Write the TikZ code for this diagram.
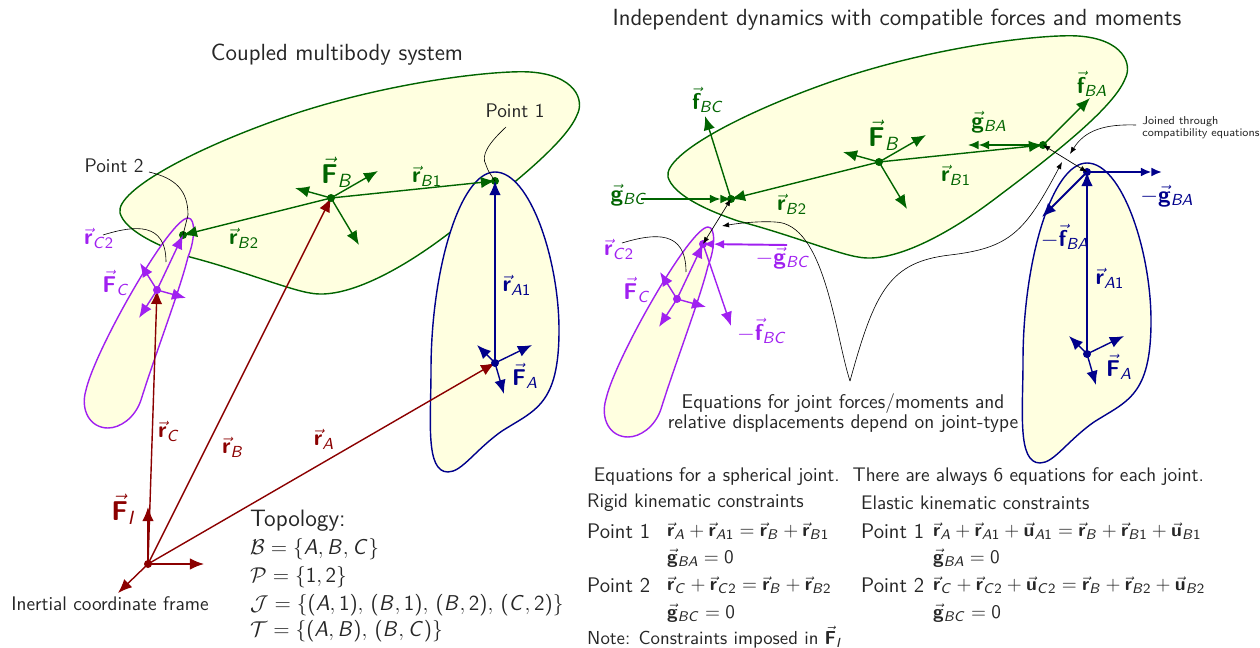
\documentclass[tikz,border=0pt]{standalone}
\usepackage{fix-cm}
\usepackage{amsmath}
\usepackage{amssymb}
\renewcommand{\familydefault}{\sfdefault}
\usetikzlibrary{arrows.meta}
\DeclareSymbolFont{sanslet}{OT1}{cmss}{m}{sl}
\SetSymbolFont{operators}{normal}{OT1}{cmss}{m}{n}
\SetMathAlphabet{\mathbf}{normal}{OT1}{cmss}{bx}{n}
\DeclareMathSymbol{A}{\mathalpha}{sanslet}{`A}
\DeclareMathSymbol{B}{\mathalpha}{sanslet}{`B}
\DeclareMathSymbol{C}{\mathalpha}{sanslet}{`C}
\DeclareMathSymbol{I}{\mathalpha}{sanslet}{`I}
\newcommand{\vecr}[1]{\vec{\mathbf{r}}_{#1}}
\newcommand{\vecF}[1]{\vec{\mathbf{F}}_{#1}}
\newcommand{\vecf}[1]{\vec{\mathbf{f}}_{#1}}
\newcommand{\vecg}[1]{\vec{\mathbf{g}}_{#1}}
\newcommand{\vecu}[1]{\vec{\mathbf{u}}_{#1}}
\newcommand{\bodyBpath}{(120,213) .. controls (115,190) and (200,145) .. (300,112) .. controls (400,80) and (500,70) .. (530,72) .. controls (575,75) and (585,100) .. (577,115) .. controls (565,145) and (500,195) .. (444,237) .. controls (400,270) and (345,300) .. (310,293) .. controls (290,290) and (240,270) .. (190,257) .. controls (155,245) and (125,230) .. (120,213) -- cycle}
\newcommand{\bodyApath}{(495,172) .. controls (460,172) and (431,270) .. (431,370) .. controls (431,420) and (425,472) .. (448,472) .. controls (462,472) and (475,450) .. (502,431) .. controls (535,410) and (559,405) .. (559,330) .. controls (559,260) and (530,172) .. (495,172) -- cycle}
\newcommand{\bodyCpath}{(188,218) .. controls (196,218) and (195,240) .. (188,257) .. controls (180,290) and (155,355) .. (141,400) .. controls (135,418) and (120,428) .. (108,428) .. controls (90,428) and (80,410) .. (86,390) .. controls (95,350) and (170,218) .. (188,218) -- cycle}
\definecolor{Bcol}{RGB}{0,100,0}
\definecolor{Acol}{RGB}{0,0,139}
\definecolor{Ccol}{RGB}{160,32,240}
\definecolor{Icol}{RGB}{139,0,0}
\definecolor{bodyfill}{RGB}{255,255,224}

\begin{document}
\begin{tikzpicture}[
    x=0.02cm, y=-0.02cm,
    body/.style={fill=bodyfill, line width=0.8pt},
    vecB/.style={-{Latex[length=8pt,width=6.5pt]}, line width=0.8pt, Bcol},
    vecA/.style={-{Latex[length=8pt,width=6.5pt]}, line width=0.8pt, Acol},
    vecC/.style={-{Latex[length=8pt,width=6.5pt]}, line width=0.8pt, Ccol},
    vecI/.style={-{Latex[length=8pt,width=6.5pt]}, line width=0.8pt, Icol},
    dblB/.style={-{Latex[length=6pt,width=5pt].Latex[length=6pt,width=5pt]}, line width=0.9pt, Bcol},
    dblA/.style={-{Latex[length=6pt,width=5pt].Latex[length=6pt,width=5pt]}, line width=1.1pt, Acol},
    dblC/.style={-{Latex[length=6pt,width=5pt].Latex[length=6pt,width=5pt]}, line width=1.1pt, Ccol},
    note/.style={line width=0.35pt, black},
    noteto/.style={-{Latex[length=4pt,width=3pt]}, line width=0.35pt, black},
    joint/.style={{Latex[length=4pt,width=3pt]}-{Latex[length=4pt,width=3pt]}, line width=0.4pt, black},
    txt/.style={font=\fontsize{11.2}{10.4}\selectfont, black!85},
    eqn/.style={font=\fontsize{11.15}{14}\selectfont, anchor=west, black!85},
    eqm/.style={font=\fontsize{10.95}{14}\selectfont},
    ttl/.style={font=\fontsize{13.3}{16}\selectfont, black!85},
    ptl/.style={font=\fontsize{12}{14}\selectfont},
    topo/.style={font=\fontsize{13.5}{16}\selectfont},
    setl/.style={font=\fontsize{12.2}{16}\selectfont},
    lblB/.style={text=Bcol},
    lblA/.style={text=Acol},
    lblC/.style={text=Ccol},
    lblI/.style={text=Icol},
    big/.style={font=\fontsize{15.5}{18}\selectfont},
    mid/.style={font=\fontsize{13}{15}\selectfont},
]
\useasboundingbox (0,0) rectangle (1260,648);

\coordinate (I) at (148,564);
\coordinate (Ix) at (204,564);
\coordinate (Iy) at (148,507);
\coordinate (Iz) at (118,593);
\coordinate (A) at (495,363);
\coordinate (B) at (331,198);
\coordinate (C) at (157,290);
\coordinate (P1) at (495,181);
\coordinate (P2) at (183,235);

\node[ttl] (title1) at (337,55) {Coupled multibody system};
\draw[body, draw=Bcol] \bodyBpath;
\draw[body, draw=Acol] \bodyApath;
\draw[body, draw=Ccol] \bodyCpath;

\draw[vecI] (I) -- (A);
\draw[vecI] (I) -- (B);
\draw[vecI] (I) -- (C);
\draw[vecI] (I) -- (Ix);
\draw[vecI] (I) -- (Iy);
\draw[vecI] (I) -- (Iz);
\fill[Icol] (I) circle (4);
\draw[vecB] (B) -- (P1);
\draw[vecB] (B) -- (P2);
\draw[vecB] (B) -- (378,171);
\draw[vecB] (B) -- (295,188);
\draw[vecB] (B) -- (359,245);
\fill[Bcol] (B) circle (4);
\fill[Bcol] (P1) circle (4);
\fill[Bcol] (P2) circle (4);
\draw[vecA] (A) -- (P1);
\draw[vecA] (A) -- (532,345);
\draw[vecA] (A) -- (477,345);
\draw[vecA] (A) -- (504,394);
\fill[Acol] (A) circle (4);
\draw[vecC] (C) -- (P2);
\draw[vecC] (C) -- (140,263);
\draw[vecC] (C) -- (186,298);
\draw[vecC] (C) -- (139,318);
\fill[Ccol] (C) circle (4);

\draw[note] (149,172) .. controls (175,178) and (188,190) .. (188,215) -- (P2);
\draw[note] (506,127) .. controls (490,142) and (480,155) .. (486,165) .. controls (488,172) and (492,176) .. (P1);
\draw[note] (103,235) .. controls (135,225) and (166,222) .. (166,262);

\node[lblB, mid] (rB1) at (427,176) {$\vecr{B1}$};
\node[lblB, big] (FB) at (337,172) {$\vecF{B}$};
\node[lblB, mid] (rB2) at (244,238) {$\vecr{B2}$};
\node[lblA, mid] (rA1) at (517,285) {$\vecr{A1}$};
\node[lblA, mid] (FA) at (525,376) {$\vecF{A}$};
\node[lblC, mid] (rC2) at (99,238) {$\vecr{C2}$};
\node[lblC, mid] (FC) at (116,283) {$\vecF{C}$};
\node[lblI, mid] (rC) at (169,431) {$\vecr{C}$};
\node[lblI, mid] (rB) at (233,447) {$\vecr{B}$};
\node[lblI, mid] (rA) at (324,439) {$\vecr{A}$};
\node[lblI, big] (FI) at (124,509) {$\vecF{I}$};
\node[txt] (pt1) at (515,111) {Point 1};
\node[txt] (pt2) at (114,166) {Point 2};
\node[txt] (frame) at (110,604) {Inertial coordinate frame};
\node[eqn, topo] (topology) at (244,521) {Topology:};
\node[eqn, setl] (setB) at (244,549) {$\mathcal{B}=\{A,B,C\}$};
\node[eqn, setl] (setP) at (244,577) {$\mathcal{P}=\{1,2\}$};
\node[eqn, setl] (setJ) at (244,605) {$\mathcal{J}=\{(A,1),\,(B,1),\,(B,2),\,(C,2)\}$};
\node[eqn, setl] (setT) at (244,631) {$\mathcal{T}=\{(A,B),\,(B,C)\}$};

\coordinate (Bb) at (879,162);
\coordinate (P1b) at (1043,145);
\coordinate (P2b) at (731,199);
\coordinate (Aa) at (1087,354);
\coordinate (P1a) at (1087,172);
\coordinate (Cc) at (677,299);
\coordinate (P2c) at (703,244);

\node[ttl] (title2) at (897,20) {Independent dynamics with compatible forces and moments};
\begin{scope}[shift={(548,-36)}]
\draw[body, draw=Bcol] \bodyBpath;
\end{scope}
\begin{scope}[shift={(592,-9)}]
\draw[body, draw=Acol] \bodyApath;
\end{scope}
\begin{scope}[shift={(520,9)}]
\draw[body, draw=Ccol] \bodyCpath;
\end{scope}

\draw[vecB] (Bb) -- (P1b);
\draw[vecB] (Bb) -- (P2b);
\draw[vecB] (Bb) -- (926,135);
\draw[vecB] (Bb) -- (843,152);
\draw[vecB] (Bb) -- (907,209);
\draw[vecB] (P2b) -- (705,116);
\draw[vecB] (P1b) -- (1090,98);
\draw[dblB] (P1b) -- (968,145);
\draw[dblB] (641,199) -- (P2b);
\fill[Bcol] (Bb) circle (4);
\fill[Bcol] (P1b) circle (4);
\fill[Bcol] (P2b) circle (4);
\draw[vecA] (Aa) -- (P1a);
\draw[vecA] (Aa) -- (1124,336);
\draw[vecA] (Aa) -- (1069,336);
\draw[vecA] (Aa) -- (1096,385);
\draw[dblA] (P1a) -- (1162,172);
\draw[vecA, line width=1.1pt] (P1a) -- (1042,217);
\fill[Acol] (Aa) circle (4);
\fill[Acol] (P1a) circle (4);
\draw[vecC] (Cc) -- (P2c);
\draw[vecC] (Cc) -- (660,272);
\draw[vecC] (Cc) -- (706,307);
\draw[vecC] (Cc) -- (659,327);
\draw[dblC] (787,245) -- (P2c);
\draw[vecC] (P2c) -- (731,326);
\fill[Ccol] (Cc) circle (4);
\fill[Ccol] (P2c) circle (4);

\draw[joint] (P1b) -- (P1a);
\draw[joint] (P2b) -- (P2c);
\coordinate (eqroot) at (850,381);
\coordinate (eqleft) at (722,226);
\coordinate (eqright) at (1062,162);
\draw[noteto] (eqroot) .. controls (835,335) and (825,223) .. (775,222) .. controls (760,221) and (740,223) .. (eqleft);
\draw[noteto] (eqroot) .. controls (875,290) and (890,262) .. (950,255) .. controls (1010,248) and (1025,232) .. (eqright);
\node[txt, font=\fontsize{6.5}{5.2}\selectfont, align=left, anchor=west, inner sep=0pt] (joined) at (1142,127.5) {Joined through\\compatibility equations};
\coordinate (joinedend) at (1070,154);
\draw[noteto] (1136,125) .. controls (1105,124) and (1085,130) .. (joinedend);
\draw[note] (622,243) .. controls (655,233) and (686,230) .. (686,272);

\node[lblB, big] (FBb) at (884,135) {$\vecF{B}$};
\node[lblB, mid] (gBA) at (989,122) {$\vecg{BA}$};
\node[lblB, mid] (fBA) at (1092,84) {$\vecf{BA}$};
\node[lblB, mid] (fBC) at (708,100) {$\vecf{BC}$};
\node[lblB, mid] (gBC) at (629,195) {$\vecg{BC}$};
\node[lblB, mid] (rB2b) at (792,204) {$\vecr{B2}$};
\node[lblB, mid] (rB1b) at (956,175) {$\vecr{B1}$};
\node[lblA, mid] (mgBA) at (1167,196) {$-\vecg{BA}$};
\node[lblA, mid] (mfBA) at (1065,237) {$-\vecf{BA}$};
\node[lblA, mid] (rA1b) at (1110,278) {$\vecr{A1}$};
\node[lblA, mid] (FAa) at (1119,367) {$\vecF{A}$};
\node[lblC, mid] (rC2c) at (619,249) {$\vecr{C2}$};
\node[lblC, mid] (FCc) at (637,290) {$\vecF{C}$};
\node[lblC, mid] (mgBC) at (783,258) {$-\vecg{BC}$};
\node[lblC, mid] (mfBC) at (762,331) {$-\vecf{BC}$};
\node[txt, font=\fontsize{11.3}{10.4}\selectfont, align=center] (depend) at (843,413) {Equations for joint forces/moments and\\relative displacements depend on joint-type};

\node[txt] (head) at (899,477) {Equations for a spherical joint.\ \ There are always 6 equations for each joint.};
\node[eqn] (rigid) at (581,503) {Rigid kinematic constraints};
\node[eqn] (elastic) at (855,503) {Elastic kinematic constraints};
\node[eqn, ptl] (r1) at (581,531) {Point 1};
\node[eqn, eqm] (r1eq) at (661,531) {$\vecr{A}+\vecr{A1}=\vecr{B}+\vecr{B1}$};
\node[eqn, eqm] (r1g) at (661,558) {$\vecg{BA}=0$};
\node[eqn, ptl] (r2) at (581,585) {Point 2};
\node[eqn, eqm] (r2eq) at (661,585) {$\vecr{C}+\vecr{C2}=\vecr{B}+\vecr{B2}$};
\node[eqn, eqm] (r2g) at (661,613) {$\vecg{BC}=0$};
\node[eqn, font=\fontsize{10.7}{14}\selectfont] (cnote) at (581,637) {Note: Constraints imposed in $\vecF{I}$};
\node[eqn, ptl] (e1) at (855,531) {Point 1};
\node[eqn, eqm] (e1eq) at (927,531) {$\vecr{A}+\vecr{A1}+\vecu{A1}=\vecr{B}+\vecr{B1}+\vecu{B1}$};
\node[eqn, eqm] (e1g) at (927,558) {$\vecg{BA}=0$};
\node[eqn, ptl] (e2) at (855,585) {Point 2};
\node[eqn, eqm] (e2eq) at (927,585) {$\vecr{C}+\vecr{C2}+\vecu{C2}=\vecr{B}+\vecr{B2}+\vecu{B2}$};
\node[eqn, eqm] (e2g) at (927,613) {$\vecg{BC}=0$};
\end{tikzpicture}
\end{document}
